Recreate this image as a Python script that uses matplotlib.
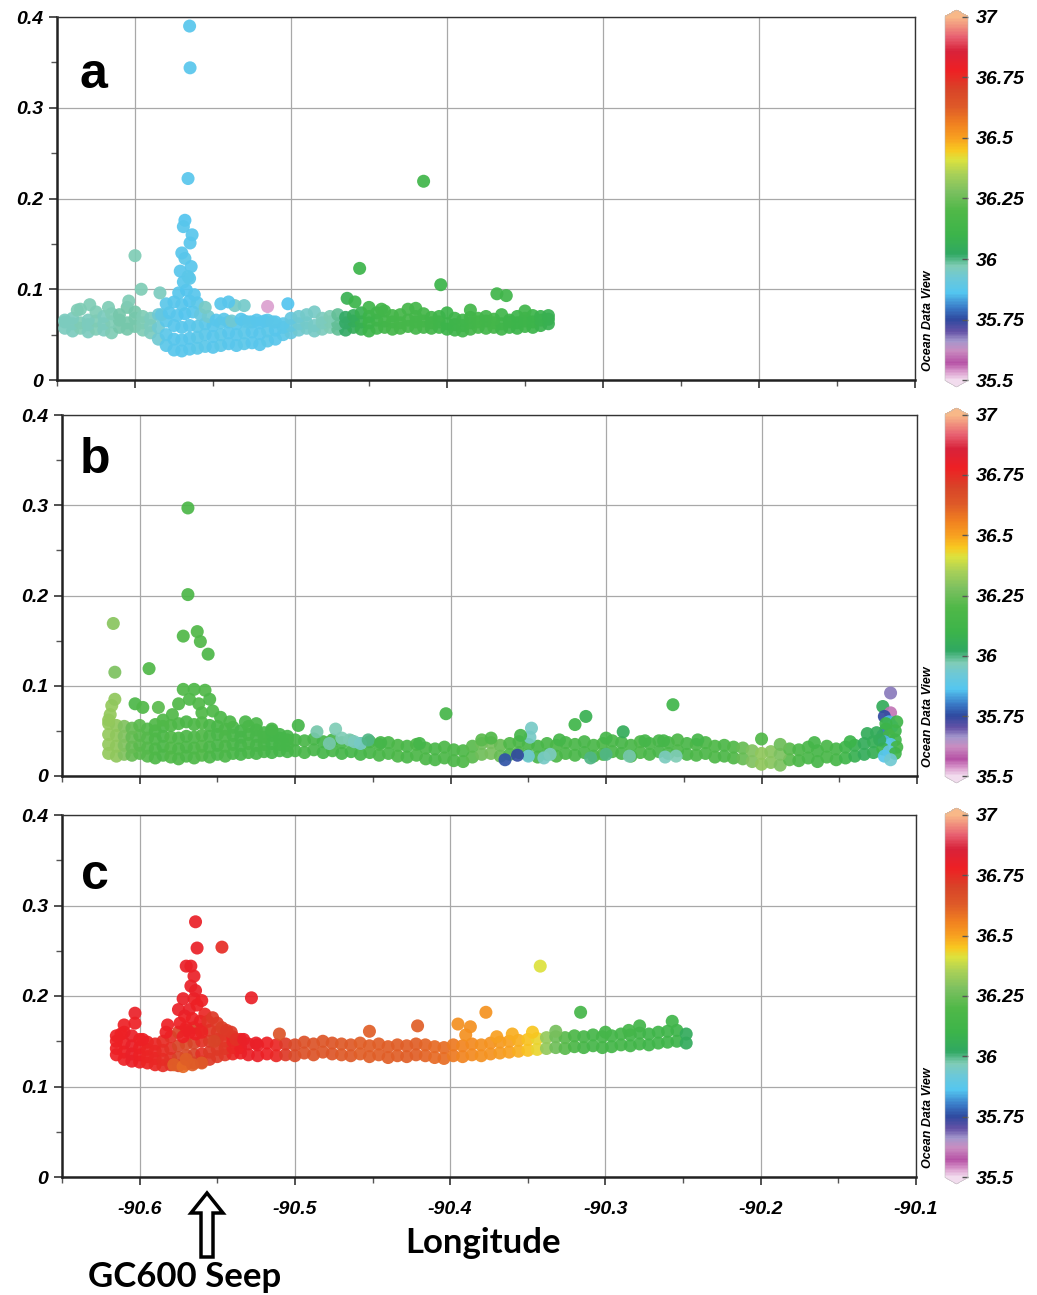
import matplotlib
matplotlib.use("Agg")
import matplotlib.pyplot as plt
from matplotlib.colors import LinearSegmentedColormap, Normalize
from matplotlib.cm import ScalarMappable
from matplotlib.patches import FancyArrow

plt.rcParams['font.family'] = ['Liberation Sans', 'DejaVu Sans']

# ---------------- panel a ----------------
a_lon = [-90.645, -90.640, -90.635, -90.630, -90.625, -90.620, -90.615, -90.610, -90.605, -90.600,
         -90.595, -90.590, -90.585, -90.580, -90.575, -90.570, -90.565, -90.560, -90.555, -90.550,
         -90.545, -90.540, -90.535, -90.530, -90.525, -90.520, -90.515, -90.510, -90.505, -90.500,
         -90.495, -90.490, -90.485, -90.480, -90.475, -90.470, -90.465, -90.460, -90.455, -90.450,
         -90.445, -90.440, -90.435, -90.430, -90.425, -90.420, -90.415, -90.410, -90.405, -90.400,
         -90.395, -90.390, -90.385, -90.380, -90.375, -90.370, -90.365, -90.360, -90.355, -90.350,
         -90.345, -90.340, -90.335]
a_y1 = [0.057, 0.054, 0.057, 0.053, 0.056, 0.055, 0.052, 0.058, 0.056, 0.059,
        0.055, 0.052, 0.045, 0.038, 0.033, 0.032, 0.034, 0.035, 0.037, 0.036,
        0.038, 0.040, 0.038, 0.040, 0.041, 0.039, 0.043, 0.045, 0.050, 0.052,
        0.055, 0.057, 0.054, 0.056, 0.058, 0.056, 0.055, 0.058, 0.056, 0.054,
        0.057, 0.058, 0.056, 0.057, 0.059, 0.057, 0.058, 0.057, 0.058, 0.056,
        0.055, 0.054, 0.056, 0.058, 0.057, 0.058, 0.056, 0.058, 0.057, 0.059,
        0.058, 0.060, 0.062]
a_y2 = [0.064, 0.062, 0.063, 0.061, 0.065, 0.062, 0.064, 0.066, 0.063, 0.068,
        0.063, 0.060, 0.058, 0.050, 0.045, 0.044, 0.046, 0.047, 0.050, 0.048,
        0.050, 0.052, 0.050, 0.052, 0.053, 0.051, 0.054, 0.055, 0.058, 0.060,
        0.062, 0.063, 0.060, 0.063, 0.064, 0.062, 0.063, 0.065, 0.064, 0.063,
        0.066, 0.065, 0.064, 0.063, 0.066, 0.064, 0.065, 0.063, 0.064, 0.062,
        0.061, 0.060, 0.063, 0.064, 0.065, 0.063, 0.062, 0.064, 0.063, 0.065,
        0.064, 0.066, 0.067]
a_y3 = [0.066, 0.068, 0.078, 0.066, 0.075, 0.070, 0.073, 0.072, 0.080, 0.075,
        0.070, 0.068, 0.072, 0.065, 0.060, 0.058, 0.060, 0.059, 0.062, 0.060,
        0.063, 0.064, 0.062, 0.065, 0.064, 0.063, 0.066, 0.064, 0.062, 0.068,
        0.070, 0.072, 0.075, 0.068, 0.070, 0.072, 0.069, 0.071, 0.074, 0.070,
        0.074, 0.076, 0.071, 0.072, 0.078, 0.070, 0.073, 0.069, 0.070, 0.074,
        0.068, 0.066, 0.069, 0.068, 0.070, 0.067, 0.072, 0.066, 0.070, 0.068,
        0.071, 0.070, 0.071]
a_sal = [35.96, 35.96, 35.97, 35.96, 35.97, 35.96, 35.97, 35.98, 35.98, 35.98,
         35.97, 35.96, 35.93, 35.88, 35.87, 35.87, 35.87, 35.88, 35.88, 35.87,
         35.88, 35.87, 35.87, 35.88, 35.87, 35.87, 35.88, 35.87, 35.88, 35.90,
         35.93, 35.94, 35.95, 35.96, 35.97, 35.99, 36.02, 36.05, 36.08, 36.10,
         36.12, 36.13, 36.14, 36.15, 36.15, 36.14, 36.14, 36.13, 36.12, 36.10,
         36.11, 36.12, 36.13, 36.14, 36.13, 36.14, 36.12, 36.11, 36.10, 36.11,
         36.10, 36.09, 36.08]
# extra points (cluster, spike, outliers)
a_pt_lon = [-90.583, -90.578, -90.573, -90.568, -90.563, -90.558, -90.553, -90.580, -90.575, -90.570,
            -90.565, -90.560, -90.555, -90.572, -90.567, -90.562, -90.569, -90.565, -90.548, -90.543,
            -90.538, -90.532, -90.527, -90.522, -90.517, -90.512, -90.545, -90.536,
            -90.565, -90.5647, -90.566, -90.568, -90.569, -90.5634, -90.5647, -90.568, -90.571, -90.564,
            -90.570, -90.566,
            -90.600, -90.596, -90.584, -90.604, -90.629, -90.637, -90.617, -90.515, -90.502, -90.540,
            -90.530, -90.415, -90.456, -90.404, -90.464, -90.459, -90.368, -90.362, -90.450, -90.442,
            -90.385, -90.420, -90.350]
a_pt_y = [0.072, 0.074, 0.071, 0.073, 0.075, 0.072, 0.070, 0.084, 0.086, 0.083,
          0.087, 0.085, 0.080, 0.096, 0.099, 0.094, 0.108, 0.112, 0.066, 0.067,
          0.065, 0.067, 0.064, 0.066, 0.065, 0.064, 0.084, 0.082,
          0.390, 0.344, 0.222, 0.176, 0.169, 0.160, 0.151, 0.134, 0.120, 0.125,
          0.140, 0.114,
          0.137, 0.100, 0.096, 0.087, 0.083, 0.077, 0.080, 0.081, 0.084, 0.086,
          0.082, 0.219, 0.123, 0.105, 0.090, 0.086, 0.095, 0.093, 0.080, 0.078,
          0.077, 0.079, 0.076]
a_pt_sal = [35.90, 35.87, 35.87, 35.86, 35.87, 35.90, 35.93, 35.88, 35.87, 35.87,
            35.86, 35.88, 35.95, 35.87, 35.86, 35.87, 35.87, 35.88, 35.87, 35.88,
            35.93, 35.87, 35.88, 35.87, 35.87, 35.88, 35.87, 35.95,
            35.87, 35.87, 35.87, 35.86, 35.87, 35.87, 35.87, 35.88, 35.87, 35.87,
            35.87, 35.88,
            35.97, 35.97, 35.96, 35.97, 35.97, 35.97, 35.97, 35.53, 35.86, 35.87,
            35.94, 36.12, 36.10, 36.10, 36.08, 36.10, 36.12, 36.12, 36.12, 36.13,
            36.13, 36.14, 36.12]

# ---------------- panel b ----------------
b_left_lon = [-90.620, -90.615, -90.610, -90.605, -90.600, -90.595, -90.590, -90.585, -90.580, -90.575,
              -90.570, -90.565, -90.560, -90.555, -90.550, -90.545, -90.540, -90.535, -90.530, -90.525,
              -90.520, -90.515, -90.510, -90.505]
b_left_y1 = [0.025, 0.022, 0.024, 0.023, 0.025, 0.022, 0.020, 0.023, 0.021, 0.019,
             0.022, 0.020, 0.023, 0.021, 0.024, 0.022, 0.025, 0.024, 0.026, 0.025,
             0.027, 0.026, 0.028, 0.027]
b_left_y2 = [0.035, 0.033, 0.034, 0.032, 0.034, 0.031, 0.030, 0.033, 0.031, 0.030,
             0.032, 0.031, 0.033, 0.032, 0.034, 0.033, 0.035, 0.034, 0.036, 0.034,
             0.035, 0.036, 0.035, 0.034]
b_left_y3 = [0.046, 0.045, 0.044, 0.043, 0.045, 0.042, 0.041, 0.044, 0.043, 0.042,
             0.044, 0.043, 0.045, 0.044, 0.046, 0.044, 0.045, 0.043, 0.046, 0.044,
             0.043, 0.045, 0.042, 0.040]
b_left_y4 = [0.058, 0.056, 0.055, 0.053, 0.056, 0.052, 0.050, 0.055, 0.056, 0.058,
             0.060, 0.057, 0.059, 0.056, 0.055, 0.052, 0.054, 0.050, 0.055, 0.051,
             0.048, 0.050, 0.046, 0.044]
b_left_sal = [36.32, 36.31, 36.29, 36.24, 36.22, 36.21, 36.19, 36.18, 36.20, 36.19,
              36.18, 36.19, 36.20, 36.18, 36.17, 36.18, 36.17, 36.16, 36.17, 36.16,
              36.16, 36.15, 36.15, 36.15]
b_lon = [-90.500, -90.494, -90.488, -90.482, -90.476, -90.470, -90.464, -90.458, -90.452, -90.446,
         -90.440, -90.434, -90.428, -90.422, -90.416, -90.410, -90.404, -90.398, -90.392, -90.386,
         -90.380, -90.374, -90.368, -90.362, -90.356, -90.350, -90.344, -90.338, -90.332, -90.326,
         -90.320, -90.314, -90.308, -90.302, -90.296, -90.290, -90.284, -90.278, -90.272, -90.266,
         -90.260, -90.254, -90.248, -90.242, -90.236, -90.230, -90.224, -90.218, -90.212, -90.206,
         -90.200, -90.194, -90.188, -90.182, -90.176, -90.170, -90.164, -90.158, -90.152, -90.146,
         -90.140, -90.134, -90.128]
b_y1 = [0.028, 0.026, 0.029, 0.026, 0.028, 0.025, 0.027, 0.024, 0.026, 0.023,
        0.025, 0.022, 0.021, 0.023, 0.019, 0.018, 0.020, 0.017, 0.016, 0.021,
        0.024, 0.025, 0.022, 0.024, 0.026, 0.023, 0.021, 0.024, 0.022, 0.025,
        0.023, 0.026, 0.022, 0.024, 0.027, 0.025, 0.022, 0.026, 0.024, 0.027,
        0.025, 0.028, 0.024, 0.023, 0.025, 0.021, 0.022, 0.020, 0.019, 0.016,
        0.013, 0.015, 0.012, 0.018, 0.017, 0.020, 0.016, 0.021, 0.018, 0.020,
        0.022, 0.024, 0.026]
b_y2 = [0.040, 0.039, 0.041, 0.038, 0.040, 0.037, 0.039, 0.036, 0.038, 0.035,
        0.037, 0.034, 0.033, 0.035, 0.031, 0.030, 0.032, 0.029, 0.028, 0.033,
        0.036, 0.037, 0.034, 0.036, 0.038, 0.035, 0.033, 0.036, 0.034, 0.037,
        0.035, 0.038, 0.034, 0.036, 0.039, 0.037, 0.034, 0.038, 0.036, 0.039,
        0.037, 0.040, 0.036, 0.035, 0.037, 0.033, 0.034, 0.032, 0.031, 0.028,
        0.025, 0.027, 0.024, 0.030, 0.029, 0.032, 0.028, 0.033, 0.030, 0.032,
        0.034, 0.036, 0.038]
b_sal = [36.16, 36.17, 36.16, 36.15, 36.16, 36.15, 36.14, 36.15, 36.16, 36.17,
         36.17, 36.18, 36.17, 36.18, 36.18, 36.17, 36.18, 36.18, 36.19, 36.22,
         36.26, 36.27, 36.24, 36.20, 36.18, 36.17, 36.16, 36.17, 36.18, 36.17,
         36.17, 36.16, 36.17, 36.18, 36.17, 36.16, 36.17, 36.18, 36.17, 36.16,
         36.17, 36.18, 36.17, 36.18, 36.18, 36.19, 36.18, 36.20, 36.24, 36.29,
         36.31, 36.30, 36.28, 36.22, 36.18, 36.17, 36.16, 36.17, 36.16, 36.12,
         36.08, 36.05, 36.06]
b_pt_lon = [-90.619, -90.618, -90.616, -90.620, -90.603, -90.598, -90.590, -90.588, -90.585, -90.579,
            -90.575, -90.572, -90.568, -90.565, -90.562, -90.560, -90.558, -90.555, -90.553, -90.548,
            -90.542, -90.532, -90.525, -90.515, -90.498, -90.486, -90.474, -90.465, -90.470, -90.462,
            -90.458, -90.478, -90.453, -90.349, -90.340, -90.336, -90.350, -90.262, -90.255, -90.300,
            -90.285, -90.310, -90.380, -90.374, -90.355, -90.330, -90.300, -90.275, -90.263, -90.241,
            -90.200, -90.188, -90.166, -90.143, -90.132, -90.420, -90.445,
            -90.617, -90.616, -90.594, -90.572, -90.569, -90.569, -90.563, -90.561, -90.556, -90.403,
            -90.313, -90.320, -90.257, -90.348, -90.365, -90.357, -90.289,
            -90.122, -90.117, -90.117, -90.121, -90.118, -90.116, -90.114, -90.120, -90.122, -90.118,
            -90.114, -90.121, -90.117, -90.113, -90.122, -90.118, -90.114, -90.121, -90.117, -90.124,
            -90.126, -90.113, -90.120]
b_pt_y = [0.068, 0.078, 0.085, 0.062, 0.080, 0.076, 0.057, 0.076, 0.062, 0.068,
          0.080, 0.096, 0.085, 0.096, 0.080, 0.070, 0.095, 0.085, 0.072, 0.065,
          0.060, 0.060, 0.058, 0.052, 0.056, 0.049, 0.052, 0.040, 0.042, 0.038,
          0.036, 0.036, 0.040, 0.043, 0.020, 0.024, 0.022, 0.021, 0.022, 0.024,
          0.022, 0.020, 0.040, 0.042, 0.045, 0.040, 0.042, 0.039, 0.039, 0.040,
          0.041, 0.035, 0.037, 0.038, 0.047, 0.036, 0.037,
          0.169, 0.115, 0.119, 0.155, 0.297, 0.201, 0.160, 0.149, 0.135, 0.069,
          0.066, 0.057, 0.079, 0.053, 0.018, 0.023, 0.049,
          0.077, 0.092, 0.070, 0.066, 0.060, 0.055, 0.050, 0.052, 0.045, 0.045,
          0.040, 0.038, 0.035, 0.032, 0.030, 0.027, 0.025, 0.022, 0.018, 0.040,
          0.048, 0.060, 0.058]
b_pt_sal = [36.32, 36.32, 36.31, 36.32, 36.18, 36.20, 36.20, 36.22, 36.20, 36.20,
            36.20, 36.20, 36.19, 36.19, 36.20, 36.20, 36.20, 36.18, 36.19, 36.18,
            36.18, 36.17, 36.17, 36.16, 36.15, 35.98, 35.97, 35.97, 35.97, 35.96,
            35.95, 35.98, 36.00, 35.95, 35.95, 35.96, 35.93, 35.96, 35.97, 36.00,
            35.98, 36.00, 36.22, 36.20, 36.15, 36.15, 36.15, 36.15, 36.15, 36.15,
            36.20, 36.25, 36.15, 36.10, 36.05, 36.15, 36.15,
            36.30, 36.28, 36.20, 36.20, 36.18, 36.18, 36.20, 36.20, 36.18, 36.15,
            36.08, 36.12, 36.12, 35.95, 35.76, 35.75, 36.05,
            36.05, 35.68, 35.60, 35.75, 35.85, 35.87, 36.10, 36.12, 35.80, 36.15,
            36.12, 35.85, 35.88, 36.15, 36.10, 35.90, 36.12, 35.87, 35.93, 36.05,
            36.05, 36.12, 36.10]

# ---------------- panel c ----------------
c_left_lon = [-90.615, -90.610, -90.605, -90.600, -90.595, -90.590, -90.585, -90.580, -90.575, -90.570,
              -90.565, -90.560, -90.555, -90.550, -90.545, -90.540, -90.535]
c_left_y1 = [0.135, 0.130, 0.128, 0.127, 0.126, 0.124, 0.123, 0.124, 0.123, 0.125,
             0.126, 0.127, 0.130, 0.133, 0.135, 0.136, 0.137]
c_left_y2 = [0.142, 0.138, 0.136, 0.135, 0.133, 0.131, 0.130, 0.131, 0.132, 0.134,
             0.135, 0.136, 0.138, 0.141, 0.142, 0.143, 0.143]
c_left_y3 = [0.150, 0.148, 0.145, 0.143, 0.141, 0.139, 0.140, 0.142, 0.145, 0.147,
             0.148, 0.150, 0.150, 0.152, 0.150, 0.150, 0.149]
c_left_y4 = [0.156, 0.160, 0.156, 0.152, 0.149, 0.147, 0.150, 0.155, 0.160, 0.162,
             0.165, 0.163, 0.162, 0.160, 0.158, 0.155, 0.152]
c_left_sal = [36.78, 36.78, 36.79, 36.78, 36.77, 36.76, 36.75, 36.74, 36.70, 36.68,
              36.70, 36.74, 36.72, 36.72, 36.73, 36.76, 36.78]
c_lon = [-90.530, -90.524, -90.518, -90.512, -90.506, -90.500, -90.494, -90.488, -90.482, -90.476,
         -90.470, -90.464, -90.458, -90.452, -90.446, -90.440, -90.434, -90.428, -90.422, -90.416,
         -90.410, -90.404, -90.398, -90.392, -90.386, -90.380, -90.374, -90.368, -90.362, -90.356,
         -90.350, -90.344, -90.338, -90.332, -90.326, -90.320, -90.314, -90.308, -90.302, -90.296,
         -90.290, -90.284, -90.278, -90.272, -90.266, -90.260, -90.254, -90.248]
c_y1 = [0.135, 0.134, 0.136, 0.134, 0.135, 0.134, 0.137, 0.135, 0.138, 0.136,
        0.135, 0.134, 0.136, 0.133, 0.135, 0.132, 0.134, 0.133, 0.135, 0.134,
        0.132, 0.131, 0.134, 0.133, 0.135, 0.134, 0.136, 0.137, 0.138, 0.139,
        0.140, 0.141, 0.142, 0.143, 0.142, 0.144, 0.143, 0.145, 0.143, 0.144,
        0.146, 0.145, 0.147, 0.146, 0.148, 0.149, 0.150, 0.148]
c_y2 = [0.147, 0.146, 0.148, 0.146, 0.147, 0.146, 0.149, 0.147, 0.150, 0.148,
        0.147, 0.146, 0.148, 0.145, 0.147, 0.144, 0.146, 0.145, 0.147, 0.146,
        0.144, 0.143, 0.146, 0.145, 0.147, 0.146, 0.148, 0.149, 0.150, 0.151,
        0.152, 0.153, 0.154, 0.155, 0.154, 0.156, 0.155, 0.157, 0.155, 0.156,
        0.158, 0.157, 0.159, 0.158, 0.160, 0.161, 0.162, 0.158]
c_sal = [36.79, 36.79, 36.78, 36.76, 36.72, 36.68, 36.66, 36.65, 36.64, 36.64,
         36.63, 36.63, 36.62, 36.62, 36.62, 36.62, 36.62, 36.62, 36.62, 36.61,
         36.60, 36.59, 36.57, 36.55, 36.54, 36.53, 36.52, 36.51, 36.50, 36.48,
         36.46, 36.43, 36.32, 36.26, 36.22, 36.18, 36.16, 36.15, 36.15, 36.14,
         36.14, 36.13, 36.13, 36.12, 36.12, 36.12, 36.11, 36.04]
c_pt_lon = [-90.574, -90.571, -90.568, -90.566, -90.563, -90.565, -90.570, -90.561, -90.558, -90.556,
            -90.553, -90.550, -90.547, -90.544, -90.541, -90.538, -90.572, -90.568, -90.564, -90.560,
            -90.575, -90.560, -90.583, -90.582, -90.610, -90.603, -90.603, -90.612, -90.598, -90.552,
            -90.578, -90.572, -90.566, -90.560, -90.570,
            -90.564, -90.563, -90.547, -90.570, -90.567, -90.565, -90.567, -90.564, -90.572, -90.528,
            -90.533, -90.525,
            -90.510, -90.452, -90.421, -90.395, -90.387, -90.390, -90.377, -90.342, -90.347, -90.332,
            -90.316, -90.278, -90.257, -90.370, -90.360, -90.300, -90.285]
c_pt_y = [0.170, 0.178, 0.185, 0.175, 0.190, 0.197, 0.165, 0.172, 0.180, 0.172,
          0.176, 0.170, 0.165, 0.162, 0.160, 0.152, 0.155, 0.160, 0.158, 0.160,
          0.185, 0.195, 0.160, 0.168, 0.168, 0.181, 0.170, 0.158, 0.152, 0.150,
          0.124, 0.122, 0.124, 0.126, 0.130,
          0.282, 0.253, 0.254, 0.233, 0.233, 0.222, 0.211, 0.206, 0.197, 0.198,
          0.152, 0.148,
          0.158, 0.161, 0.167, 0.169, 0.166, 0.157, 0.182, 0.233, 0.160, 0.161,
          0.182, 0.167, 0.172, 0.155, 0.158, 0.160, 0.162]
c_pt_sal = [36.78, 36.78, 36.79, 36.78, 36.78, 36.78, 36.78, 36.78, 36.76, 36.74,
            36.72, 36.72, 36.71, 36.72, 36.72, 36.74, 36.78, 36.78, 36.78, 36.77,
            36.79, 36.78, 36.78, 36.78, 36.78, 36.79, 36.78, 36.78, 36.78, 36.70,
            36.62, 36.60, 36.62, 36.63, 36.62,
            36.79, 36.79, 36.75, 36.79, 36.79, 36.79, 36.79, 36.79, 36.79, 36.79,
            36.79, 36.79,
            36.65, 36.62, 36.62, 36.53, 36.53, 36.53, 36.52, 36.41, 36.45, 36.27,
            36.15, 36.13, 36.12, 36.50, 36.48, 36.15, 36.14]

x_ticks = [-90.6, -90.5, -90.4, -90.3, -90.2, -90.1]
x_labels = ['-90.6', '-90.5', '-90.4', '-90.3', '-90.2', '-90.1']
y_ticks = [0, 0.1, 0.2, 0.3, 0.4]
y_labels = ['0', '0.1', '0.2', '0.3', '0.4']
cb_ticks = [35.5, 35.75, 36, 36.25, 36.5, 36.75, 37]
cb_labels = ['35.5', '35.75', '36', '36.25', '36.5', '36.75', '37']

# ODV-like colour scale
stops = [(35.50, '#f2dcee'), (35.53, '#dca0cf'), (35.57, '#b652a6'), (35.62, '#c98cc0'),
         (35.66, '#a497cc'), (35.70, '#6452a6'), (35.75, '#2f4aa0'), (35.80, '#3a7cc8'),
         (35.86, '#54c6f0'), (35.92, '#6cc8d8'), (35.97, '#80ccb6'), (36.02, '#30a862'),
         (36.10, '#3cb44a'), (36.20, '#50b848'), (36.28, '#7cc060'), (36.35, '#a8d058'),
         (36.41, '#dce23e'), (36.45, '#f8c820'), (36.50, '#f8a020'), (36.56, '#f08020'),
         (36.63, '#de5a28'), (36.70, '#d84428'), (36.78, '#ee2024'), (36.86, '#d8223a'),
         (36.92, '#e86272'), (37.00, '#f8b888')]
cmap = LinearSegmentedColormap.from_list(
    'odv', [((v - 35.5) / 1.5, c) for v, c in stops])
norm = Normalize(35.5, 37)

W, H = 1037, 1295
fig = plt.figure(figsize=(W / 100, H / 100), dpi=100)


def box(l, t, r, b):
    return [l / W, 1 - b / H, (r - l) / W, (b - t) / H]


bi = dict(fontweight='bold', fontstyle='italic')
calibri = ['Lato', 'DejaVu Sans']


def rows(lon, ys, sal):
    xs, yy, ss = [], [], []
    for y in ys:
        xs += lon
        yy += y
        ss += sal
    return xs, yy, ss


# letter, axes box, colorbar box, y of "Ocean Data View", letter x/baseline (axes frac), groups
panels = [
    ('a', box(57, 17, 915, 380), box(945, 10, 968, 387), 321, (0.042, 0.804),
     [rows(a_lon, [a_y1, a_y2, a_y3], a_sal), (a_pt_lon, a_pt_y, a_pt_sal)]),
    ('b', box(62, 415, 917, 776), box(945, 408, 968, 783), 717, (0.039, 0.839),
     [rows(b_left_lon, [b_left_y1, b_left_y2, b_left_y3, b_left_y4], b_left_sal),
      rows(b_lon, [b_y1, b_y2], b_sal), (b_pt_lon, b_pt_y, b_pt_sal)]),
    ('c', box(62, 815, 916, 1177), box(945, 808, 968, 1184), 1118, (0.039, 0.796),
     [rows(c_left_lon, [c_left_y1, c_left_y2, c_left_y3, c_left_y4], c_left_sal),
      rows(c_lon, [c_y1, c_y2], c_sal), (c_pt_lon, c_pt_y, c_pt_sal)]),
]

for letter, pos, cpos, odv_y, lpos, groups in panels:
    ax = fig.add_axes(pos)
    for xs, ys, ss in groups:
        ax.scatter(xs, ys, c=ss, cmap=cmap, norm=norm, s=88, alpha=0.92,
                   linewidths=0, zorder=3)
    ax.set_xlim(-90.65, -90.1)
    ax.set_ylim(0, 0.4)
    ax.set_xticks(x_ticks)
    ax.set_xticks([-90.65, -90.55, -90.45, -90.35, -90.25, -90.15], minor=True)
    ax.set_yticks(y_ticks)
    ax.set_yticks([0.05, 0.15, 0.25, 0.35], minor=True)
    ax.set_yticklabels(y_labels, fontsize=14, **bi)
    ax.grid(True, which='major', color='#a8a8a8', lw=0.9)
    ax.set_axisbelow(True)
    ax.tick_params(which='major', direction='out', length=6, width=1.2, color='#333333')
    ax.tick_params(which='minor', direction='out', length=4, width=1.0, color='#555555')
    ax.tick_params(axis='y', pad=4)
    for side in ['top', 'right']:
        ax.spines[side].set_linewidth(1.0)
        ax.spines[side].set_color('#333333')
    for side in ['left', 'bottom']:
        ax.spines[side].set_linewidth(1.8)
        ax.spines[side].set_color('#222222')
    if letter == 'c':
        ax.set_xticklabels(x_labels, fontsize=14, **bi)
        ax.tick_params(axis='x', pad=11)
    else:
        ax.tick_params(axis='x', labelbottom=False)
    ax.text(lpos[0], lpos[1], letter, transform=ax.transAxes, fontsize=36,
            fontweight='bold', ha='center', va='baseline')

    cax = fig.add_axes(cpos)
    cb = fig.colorbar(ScalarMappable(norm=norm, cmap=cmap), cax=cax,
                      extend='both', extendfrac=0.018, ticks=cb_ticks)
    cb.outline.set_linewidth(0.4)
    cb.outline.set_edgecolor('#bbbbbb')
    cax.set_yticklabels(cb_labels, fontsize=14, **bi)
    cax.tick_params(direction='in', length=4, width=1, color='#555555', pad=6)
    fig.text(928 / W, 1 - odv_y / H, 'Ocean Data View', rotation=90, fontsize=9,
             ha='center', va='center', **bi)

fig.text(483 / W, 1 - 1243 / H, 'Longitude', fontsize=25, fontweight='bold',
         family=calibri, ha='center', va='center')
fig.text(185 / W, 1 - 1277 / H, 'GC600 Seep', fontsize=25, fontweight='bold',
         family=calibri, ha='center', va='center')
arrow = FancyArrow(2.07, 0.38, 0, 0.64, width=0.12, head_width=0.32, head_length=0.2,
                   length_includes_head=True, facecolor='white', edgecolor='black',
                   linewidth=2.5, transform=fig.dpi_scale_trans)
fig.add_artist(arrow)

fig.savefig('out.png', dpi=100)
